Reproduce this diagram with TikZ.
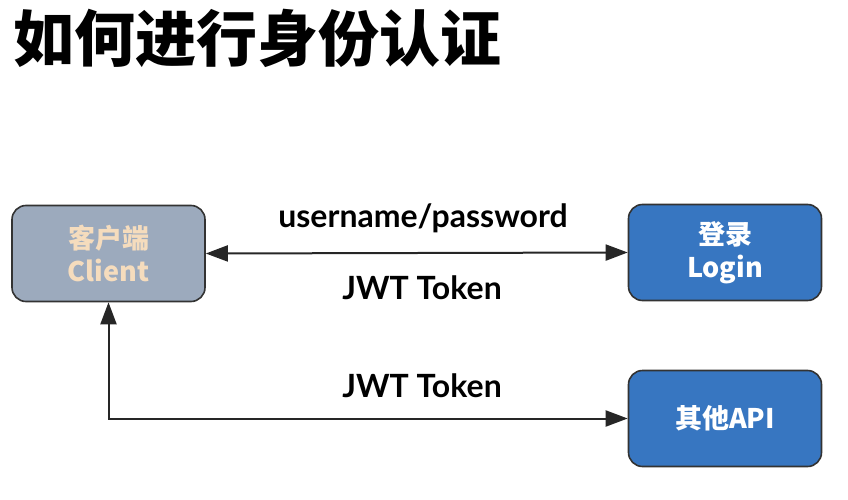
\documentclass[tikz,border=0pt]{standalone}
\usepackage{fontspec}
\setmainfont{Lato}
\newfontfamily\cjk{Noto Sans CJK SC}
\usetikzlibrary{arrows.meta, positioning}
\definecolor{clientgray}{HTML}{9CAABD}
\definecolor{clientbeige}{HTML}{F5DCBD}
\definecolor{authblue}{HTML}{3776C1}
\definecolor{edgedark}{HTML}{333333}
\tikzset{
  box/.style={rectangle, rounded corners=14pt, draw=edgedark, line width=1.6pt,
    minimum width=193pt, minimum height=96pt, align=center,
    font=\cjk\bfseries\fontsize{27}{33}\selectfont},
  link/.style={line width=2pt, draw=black!85, {Triangle[length=22pt,width=16pt]}-{Triangle[length=22pt,width=16pt]}},
  msg/.style={font=\bfseries\fontsize{32}{36}\selectfont}
}

\begin{document}
\begin{tikzpicture}[x=1pt, y=-1pt]
  \useasboundingbox (0,0) rectangle (848,500);
  % Title
  \node[anchor=west, inner sep=0pt, font=\cjk\bfseries\fontsize{61}{64}\selectfont] (title) at (13,38) {如何进行身份认证};

  % Boxes
  \node[box, fill=clientgray, text=clientbeige] (client) at (108.5,253.5) {客户端\\Client};
  \node[box, fill=authblue, text=white] (login) at (725,252.5) {登录\\Login};
  \node[box, fill=authblue, text=white] (api) at (725,418.5) {其他API};

  % Connectors
  \draw[link] (client.east) -- (login.west);
  \draw[link] (client.south) |- (api.west);

  % Labels
  \node[msg] (cred) at (423,218) {username/password};
  \node[msg] (tokenA) at (422,288) {JWT Token};
  \node[msg] (tokenB) at (422,386) {JWT Token};
\end{tikzpicture}
\end{document}
